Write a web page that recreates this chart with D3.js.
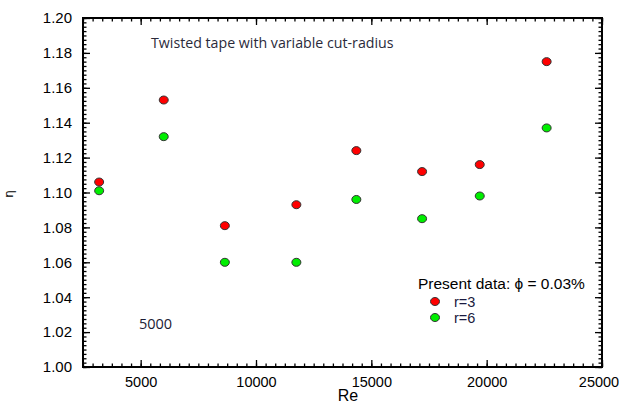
<!DOCTYPE html>
<html>
<head>
<meta charset="utf-8">
<script src="https://cdn.jsdelivr.net/npm/d3@7"></script>
<style>
  html, body { margin: 0; padding: 0; background: #fff; }
  svg { display: block; }
</style>
</head>
<body>
<div id="chart"></div>
<script>
// Data
const reValues = [3200, 6000, 8650, 11750, 14350, 17200, 19700, 22600];
const etaR3 = [1.106, 1.153, 1.081, 1.093, 1.124, 1.112, 1.116, 1.175];
const etaR6 = [1.101, 1.132, 1.060, 1.060, 1.096, 1.085, 1.098, 1.137];
const xTickValues = [5000, 10000, 15000, 20000, 25000];
const yTickValues = [1.00, 1.02, 1.04, 1.06, 1.08, 1.10, 1.12, 1.14, 1.16, 1.18, 1.20];
const seriesNames = ["r=3", "r=6"];
const seriesColors = ["#ff0000", "#00ee00"];

const totalWidth = 619, totalHeight = 403;
const margin = { top: 18, right: 17, bottom: 36, left: 83 },
    width = totalWidth - margin.left - margin.right,
    height = totalHeight - margin.top - margin.bottom;

const svg = d3.select("#chart")
    .append("svg")
    .attr("width", totalWidth)
    .attr("height", totalHeight);

const g = svg.append("g")
    .attr("transform", `translate(${margin.left},${margin.top})`);

// Scales
const x = d3.scaleLinear().domain([2500, 25000]).range([0, width]);
const y = d3.scaleLinear().domain([1.0, 1.2]).range([height, 0]);

const xMinor = d3.range(2500, 25001, 5000 / 12);
const yMinor = d3.range(1.0, 1.2001, 0.0025);

const font = "Liberation Sans, Arial, sans-serif";

function styleAxis(sel) {
    sel.select(".domain").remove();
    sel.selectAll("line").attr("stroke", "#000").attr("stroke-width", 1.3);
    sel.selectAll("text")
        .attr("fill", "#000")
        .style("font-family", font)
        .style("font-size", "14.5px");
}

// Minor ticks, all four sides
g.append("g").attr("transform", `translate(0,${height})`)
    .call(d3.axisBottom(x).tickValues(xMinor).tickSize(-3.5).tickFormat(""))
    .call(styleAxis);
g.append("g")
    .call(d3.axisTop(x).tickValues(xMinor).tickSize(-3.5).tickFormat(""))
    .call(styleAxis);
g.append("g")
    .call(d3.axisLeft(y).tickValues(yMinor).tickSize(-3.5).tickFormat(""))
    .call(styleAxis);
g.append("g").attr("transform", `translate(${width},0)`)
    .call(d3.axisRight(y).tickValues(yMinor).tickSize(-3.5).tickFormat(""))
    .call(styleAxis);

// Major ticks with labels
const xAxisG = g.append("g").attr("transform", `translate(0,${height})`)
    .call(d3.axisBottom(x).tickValues(xTickValues).tickSize(-7).tickPadding(10).tickFormat(d3.format("d")))
    .call(styleAxis);
// keep the last label inside the window, as in the reference
xAxisG.selectAll("text").filter(d => d === 25000).attr("dx", -3.5);

g.append("g")
    .call(d3.axisLeft(y).tickValues(yTickValues).tickSize(-7).tickPadding(11).tickFormat(d3.format(".2f")))
    .call(styleAxis)
    .selectAll("text").style("font-size", "15px");
g.append("g")
    .call(d3.axisTop(x).tickValues(xTickValues).tickSize(-7).tickFormat(""))
    .call(styleAxis);
g.append("g").attr("transform", `translate(${width},0)`)
    .call(d3.axisRight(y).tickValues(yTickValues).tickSize(-7).tickFormat(""))
    .call(styleAxis);

// Frame
g.append("rect")
    .attr("width", width)
    .attr("height", height)
    .attr("fill", "none")
    .attr("stroke", "#000")
    .attr("stroke-width", 2);

// Points
[etaR3, etaR6].forEach((vals, i) => {
    g.selectAll(".pt" + i)
        .data(vals.map((v, j) => ({ re: reValues[j], eta: v })))
        .enter()
        .append("ellipse")
            .attr("class", "pt" + i)
            .attr("cx", d => x(d.re))
            .attr("cy", d => y(d.eta))
            .attr("rx", 4.5)
            .attr("ry", 4)
            .attr("fill", seriesColors[i])
            .attr("stroke", "#333")
            .attr("stroke-width", 1);
});

// Title inside the plot
svg.append("text")
    .attr("x", 151)
    .attr("y", 48)
    .style("font-family", "Open Sans, sans-serif")
    .style("font-size", "14.2px")
    .attr("fill", "#2a2a3a")
    .text("Twisted tape with variable cut-radius");

// Stray "5000" annotation
svg.append("text")
    .attr("x", 139)
    .attr("y", 329)
    .style("font-family", "Open Sans, sans-serif")
    .style("font-size", "14.5px")
    .attr("fill", "#1a1a33")
    .text("5000");

// Legend
svg.append("text")
    .attr("x", 418)
    .attr("y", 289)
    .style("font-family", font)
    .style("font-size", "15.5px")
    .attr("fill", "#000")
    .text("Present data: \u03d5 = 0.03%");

seriesNames.forEach((name, i) => {
    const ly = 301.5 + i * 16;
    svg.append("ellipse")
        .attr("cx", 435)
        .attr("cy", ly)
        .attr("rx", 4.5)
        .attr("ry", 4)
        .attr("fill", seriesColors[i])
        .attr("stroke", "#333")
        .attr("stroke-width", 1);
    svg.append("text")
        .attr("x", 454)
        .attr("y", ly + 5)
        .style("font-family", font)
        .style("font-size", "14.5px")
        .attr("fill", "#1a1a40")
        .text(name);
});

// Axis titles
svg.append("text")
    .attr("x", 348)
    .attr("y", 401)
    .attr("text-anchor", "middle")
    .style("font-family", font)
    .style("font-size", "16px")
    .text("Re");

svg.append("text")
    .attr("transform", "translate(13,194)rotate(-90)")
    .attr("text-anchor", "middle")
    .style("font-family", "DejaVu Sans, sans-serif")
    .style("font-size", "12px")
    .text("\u03b7");
</script>
</body>
</html>
